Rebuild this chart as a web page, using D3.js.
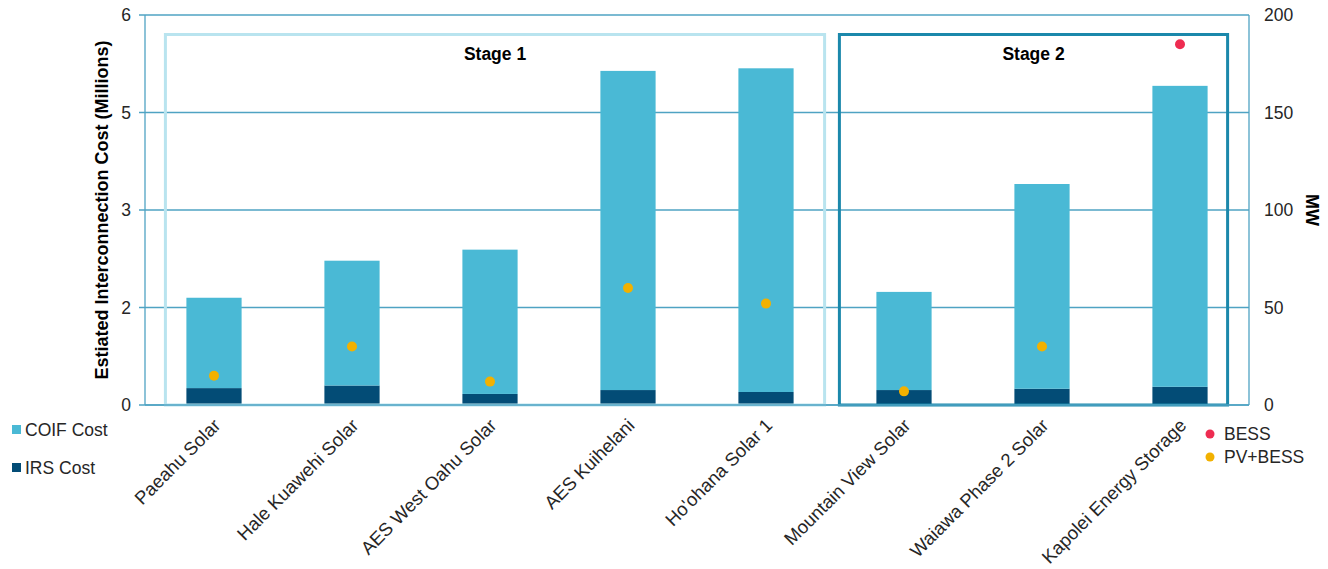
<!DOCTYPE html>
<html>
<head>
<meta charset="utf-8">
<script src="https://cdn.jsdelivr.net/npm/d3@7"></script>
<style>
  body { margin: 0; background: #fff; }
  text { font-family: Arial, "Liberation Sans", sans-serif; }
</style>
</head>
<body>
<div id="chart"></div>
<script>
// projects along the x axis
const projects = [
  "Paeahu Solar", "Hale Kuawehi Solar", "AES West Oahu Solar", "AES Kuihelani",
  "Ho'ohana Solar 1", "Mountain View Solar", "Waiawa Phase 2 Solar", "Kapolei Energy Storage"
];
// cost in millions
const irsCost  = [0.26, 0.30, 0.17, 0.23, 0.20, 0.23, 0.25, 0.28];
const coifCost = [1.39, 1.92, 2.22, 4.91, 4.98, 1.51, 3.15, 4.63];
// MW on the secondary axis
const mwType  = ["PV+BESS", "PV+BESS", "PV+BESS", "PV+BESS", "PV+BESS", "PV+BESS", "PV+BESS", "BESS"];
const mwValue = [15, 30, 12, 60, 52, 7, 30, 185];
// axis ticks (left ones are shown rounded, like the original)
const leftTicks  = [0, 1.5, 3, 4.5, 6];
const rightTicks = [0, 50, 100, 150, 200];
// stage groups
const stages = [
  { label: "Stage 1", first: 0, last: 4 },
  { label: "Stage 2", first: 5, last: 7 },
];

const width = 1328, height = 569;
const margin = { top: 15, right: 79, bottom: 164, left: 145 };

const colors = {
  coif: "#4ab9d5",
  irs: "#034c76",
  grid: "#4fa3c3",
  BESS: "#ee2c51",
  "PV+BESS": "#f2b100",
  stage1: "#b9e4ef",
  stage2: "#1b88ab",
  text: "#262626",
};

const svg = d3.select("#chart")
  .append("svg")
  .attr("width", width)
  .attr("height", height);

const x = d3.scaleBand()
  .domain(projects)
  .range([margin.left, width - margin.right])
  .paddingInner(0.6)
  .paddingOuter(0.3);

const y = d3.scaleLinear()
  .domain([0, 6])
  .range([height - margin.bottom, margin.top]);

const y2 = d3.scaleLinear()
  .domain([0, 200])
  .range([height - margin.bottom, margin.top]);

// gridlines (they run a bit past the left axis like tick marks)
svg.append("g")
  .selectAll("line")
  .data(leftTicks)
  .join("line")
  .attr("x1", margin.left - 6)
  .attr("x2", width - margin.right)
  .attr("y1", d => y(d))
  .attr("y2", d => y(d))
  .attr("stroke", colors.grid)
  .attr("stroke-width", 1.3);

// left + right frame lines
svg.append("line")
  .attr("x1", margin.left).attr("x2", margin.left)
  .attr("y1", y(0)).attr("y2", y(6))
  .attr("stroke", colors.grid).attr("stroke-width", 1.3);
svg.append("line")
  .attr("x1", width - margin.right).attr("x2", width - margin.right)
  .attr("y1", y(0)).attr("y2", y(6))
  .attr("stroke", colors.grid).attr("stroke-width", 1.3);

// stacked bars
const stacked = projects.map((p, i) => ({ project: p, irs: irsCost[i], coif: coifCost[i] }));
const series = d3.stack().keys(["irs", "coif"])(stacked);

svg.append("g")
  .selectAll("g")
  .data(series)
  .join("g")
  .attr("fill", d => colors[d.key])
  .selectAll("rect")
  .data(d => d)
  .join("rect")
  .attr("x", d => x(d.data.project))
  .attr("width", x.bandwidth())
  .attr("y", d => y(d[1]))
  .attr("height", d => y(d[0]) - y(d[1]));

// stage boxes
const stagePad = [[21, 31], [37, 20]]; // px left/right of the first/last bar
stages.forEach((s, i) => {
  const x1 = x(projects[s.first]) - stagePad[i][0];
  const x2 = x(projects[s.last]) + x.bandwidth() + stagePad[i][1];
  svg.append("rect")
    .attr("x", x1)
    .attr("y", y(5.7))
    .attr("width", x2 - x1)
    .attr("height", y(0) - y(5.7))
    .attr("fill", "none")
    .attr("stroke", i === 0 ? colors.stage1 : colors.stage2)
    .attr("stroke-width", 3);
  svg.append("text")
    .attr("x", (x1 + x2) / 2)
    .attr("y", y(5.7) + 25)
    .attr("text-anchor", "middle")
    .attr("font-weight", "bold")
    .attr("font-size", 17.5)
    .attr("fill", "#000")
    .text(s.label);
});

// MW dots
svg.append("g")
  .selectAll("circle")
  .data(projects)
  .join("circle")
  .attr("cx", d => x(d) + x.bandwidth() / 2)
  .attr("cy", (d, i) => y2(mwValue[i]))
  .attr("r", 5)
  .attr("fill", (d, i) => colors[mwType[i]]);

// bottom axis line drawn over everything
svg.append("line")
  .attr("x1", margin.left).attr("x2", width - margin.right)
  .attr("y1", y(0)).attr("y2", y(0))
  .attr("stroke", colors.grid).attr("stroke-width", 1.5);

// left tick labels
svg.append("g")
  .selectAll("text")
  .data(leftTicks)
  .join("text")
  .attr("x", margin.left - 14)
  .attr("y", d => y(d))
  .attr("dy", "0.35em")
  .attr("text-anchor", "end")
  .attr("font-size", 17.5)
  .attr("fill", colors.text)
  .text(d => d3.format(".0f")(d));

// right tick labels
svg.append("g")
  .selectAll("text")
  .data(rightTicks)
  .join("text")
  .attr("x", width - margin.right + 15)
  .attr("y", d => y2(d))
  .attr("dy", "0.35em")
  .attr("text-anchor", "start")
  .attr("font-size", 17.5)
  .attr("fill", colors.text)
  .text(d => d);

// x labels, rotated
svg.append("g")
  .selectAll("text")
  .data(projects)
  .join("text")
  .attr("transform", d => `translate(${x(d) + x.bandwidth() / 2 + 3}, ${y(0) + 17}) rotate(-45)`)
  .attr("text-anchor", "end")
  .attr("dy", "0.35em")
  .attr("font-size", 18.5)
  .attr("fill", colors.text)
  .text(d => d);

// axis titles
svg.append("text")
  .attr("transform", `translate(108, ${(y(0) + y(6)) / 2}) rotate(-90)`)
  .attr("text-anchor", "middle")
  .attr("font-weight", "bold")
  .attr("font-size", 18)
  .attr("fill", "#000")
  .text("Estiated Interconnection Cost (Millions)");

svg.append("text")
  .attr("transform", `translate(1306, ${(y(0) + y(6)) / 2}) rotate(90)`)
  .attr("text-anchor", "middle")
  .attr("font-weight", "bold")
  .attr("font-size", 18)
  .attr("fill", "#000")
  .text("MW");

// legend for the bars (left, bottom)
const barLegend = [["COIF Cost", colors.coif], ["IRS Cost", colors.irs]];
const bl = svg.append("g")
  .selectAll("g")
  .data(barLegend)
  .join("g")
  .attr("transform", (d, i) => `translate(12, ${425 + i * 38})`);
bl.append("rect").attr("width", 9).attr("height", 9).attr("fill", d => d[1]);
bl.append("text")
  .attr("x", 13).attr("y", 5).attr("dy", "0.35em")
  .attr("font-size", 17.5).attr("fill", colors.text)
  .text(d => d[0]);

// legend for the dots (right, bottom)
const dotLegend = ["BESS", "PV+BESS"];
const dl = svg.append("g")
  .selectAll("g")
  .data(dotLegend)
  .join("g")
  .attr("transform", (d, i) => `translate(1210, ${434 + i * 23})`);
dl.append("circle").attr("r", 4.5).attr("fill", d => colors[d]);
dl.append("text")
  .attr("x", 14).attr("dy", "0.35em")
  .attr("font-size", 17.5).attr("fill", colors.text)
  .text(d => d);
</script>
</body>
</html>
